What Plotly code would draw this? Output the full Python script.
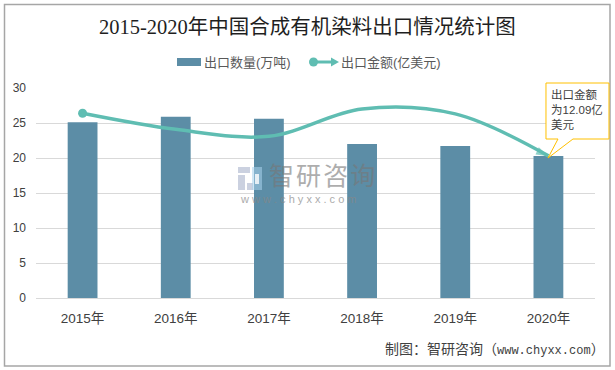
import plotly.graph_objects as go

# ---- data ----
categories = ["2015年", "2016年", "2017年", "2018年", "2019年", "2020年"]
export_volume = [25.1, 25.9, 25.6, 22.0, 21.7, 20.3]
export_value = [26.4, 24.1, 23.1, 27.0, 26.3, 20.3]
y_ticks = [0, 5, 10, 15, 20, 25, 30]
title_text = "2015-2020年中国合成有机染料出口情况统计图"
bar_name = "出口数量(万吨)"
line_name = "出口金额(亿美元)"
callout_text = "出口金额<br>为12.09亿<br>美元"
source_text = "制图：智研咨询（<span style='font-size:12px'>www.chyxx.com</span>）"
wm_cn = "智\u200a研\u200a咨\u200a询"
wm_en = "w w w . c h y x x . c o m"

W, H = 615, 370
L, R, T, B = 36, 595, 88, 298
BAR = "#5C8DA6"
TEAL = "#5FBDB2"
TXT = "#404040"
SANS = "Liberation Sans, Noto Sans CJK SC, sans-serif"
SERIF = "Liberation Serif, Noto Sans CJK SC, serif"
MONO = "Liberation Mono, Noto Sans CJK SC, monospace"


def px(x):
    return (x - L) / (R - L)


def py(y):
    return (B - y) / (B - T)


def path(points):
    return "M" + " L".join(f"{px(x):.4f},{py(y):.4f}" for x, y in points) + " Z"


def rect(x0, y0, x1, y1, fill, line=None, layer="above", opacity=1.0, width=1):
    return dict(type="rect", xref="paper", yref="paper", x0=px(x0), x1=px(x1), y0=py(y0), y1=py(y1),
                fillcolor=fill, line=dict(color=line or "rgba(0,0,0,0)", width=width), layer=layer, opacity=opacity)


def note(x, y, text, size=12, color=TXT, font=SANS, xanchor="left", opacity=1.0, align="left"):
    return dict(xref="paper", yref="paper", x=px(x), y=py(y), text=text, showarrow=False, xanchor=xanchor,
                yanchor="middle", align=align, opacity=opacity, font=dict(size=size, color=color, family=font))


fig = go.Figure()
fig.add_bar(x=categories, y=export_volume, name=bar_name, marker=dict(color=BAR, line_width=0), showlegend=False)
n = len(categories)
fig.add_scatter(
    x=categories, y=export_value, name=line_name, mode="lines+markers", showlegend=False,
    line=dict(color=TEAL, width=3.5, shape="spline", smoothing=1.0),
    marker=dict(color=TEAL, size=[0] * (n - 1) + [13], symbol="arrow", angleref="previous", line_width=0),
)
# round start cap of the line
fig.add_scatter(
    x=categories[:1], y=export_value[:1], name=line_name, mode="markers", showlegend=False,
    marker=dict(color=TEAL, size=9, symbol="circle", line_width=0),
)

shapes = [
    rect(4.5, 4.5, 610, 366, "rgba(0,0,0,0)", line="#A6A6A6", layer="below", width=1.5),
    # legend keys
    rect(177, 58, 201, 66, BAR),
    dict(type="line", xref="paper", yref="paper", x0=px(312), x1=px(334), y0=py(62), y1=py(62),
         line=dict(color=TEAL, width=3)),
    dict(type="circle", xref="paper", yref="paper", x0=px(309), x1=px(318), y0=py(66.5), y1=py(57.5),
         fillcolor=TEAL, line_width=0),
    dict(type="path", xref="paper", yref="paper", path=path([(331, 57.5), (339, 62), (331, 66.5)]),
         fillcolor=TEAL, line_width=0),
    # callout
    dict(type="path", xref="paper", yref="paper",
         path=path([(546, 83), (609, 83), (609, 139), (573, 139), (548, 158), (558, 139), (546, 139)]),
         fillcolor="white", line=dict(color="#FFC000", width=1)),
    # watermark logo
    rect(238, 167, 250, 173, "#A9B4CC", opacity=0.6),
    rect(238, 175, 245, 190, "#A9B4CC", opacity=0.6),
    rect(247, 183, 253, 190, "#A9B4CC", opacity=0.6),
    rect(252, 167, 262, 190, "#A9D3EE", opacity=0.55),
    rect(255, 174, 259, 184, "#FFFFFF", opacity=0.8),
]

annotations = [
    note(307.5, 27, title_text, size=20.5, color="#1F1F1F", font=SERIF, xanchor="center"),
    note(202, 62, bar_name, size=13, color="#595959"),
    note(339, 62, line_name, size=13, color="#595959"),
    note(548.5, 109, callout_text, size=11.5, color=TXT),
    note(382.5, 350, source_text, size=14, color=TXT, font=MONO),
    note(267, 176, wm_cn, size=25, color="#777777", opacity=0.6),
    note(238, 199, wm_en, size=11, color="#888888", opacity=0.7),
]

fig.update_layout(
    width=W, height=H, autosize=False, margin=dict(l=L, r=W - R, t=T, b=H - B),
    paper_bgcolor="white", plot_bgcolor="white", bargap=0.68, showlegend=False,
    font=dict(family=SANS, color=TXT, size=12),
    shapes=shapes, annotations=annotations,
    xaxis=dict(type="category", tickfont=dict(size=13.5, color=TXT), showgrid=False, showline=True,
               linecolor="#D9D9D9", linewidth=1, ticks="", ticklabelstandoff=8),
    yaxis=dict(range=[0, 30], tickvals=y_ticks, showgrid=True, gridcolor="#D9D9D9", gridwidth=1,
               zeroline=False, showline=False, ticks="", tickfont=dict(size=12, color=TXT), ticklabelstandoff=9),
)
fig.write_html("out.html", post_script="document.body.style.margin='0';document.body.style.overflow='hidden';",
               config=dict(displayModeBar=False))
